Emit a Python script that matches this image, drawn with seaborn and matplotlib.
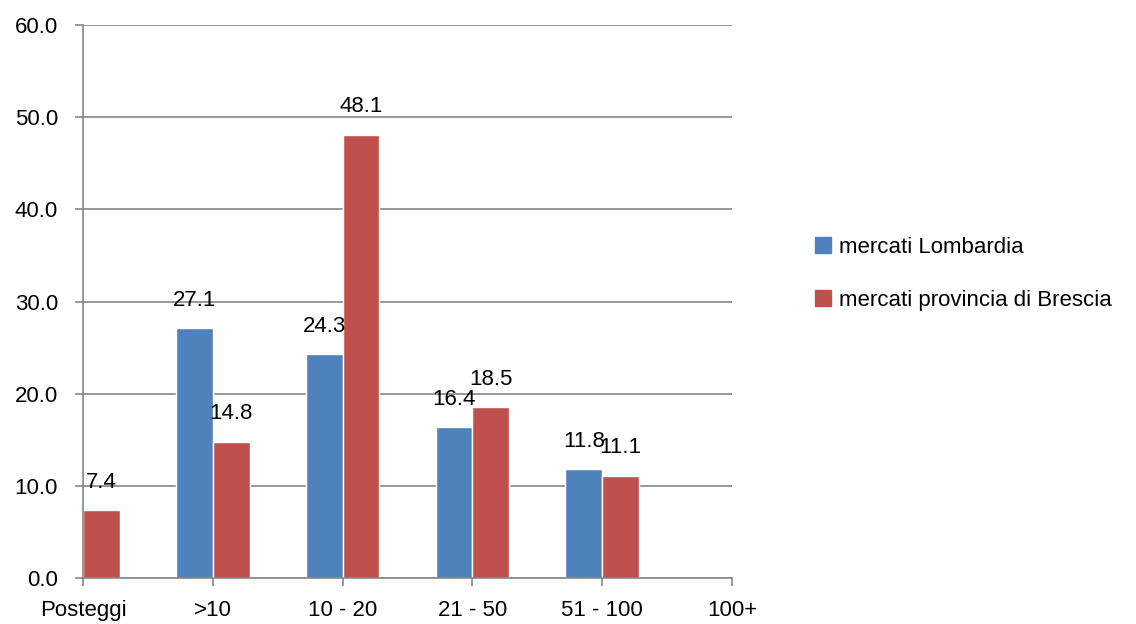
import matplotlib
matplotlib.use("Agg")
import matplotlib.pyplot as plt
import seaborn as sns
import numpy as np
import pandas as pd

categories = ["Posteggi", ">10", "10 - 20", "21 - 50", "51 - 100", "100+"]
lombardia = [np.nan, 27.1, 24.3, 16.4, 11.8, np.nan]
brescia = [7.4, 14.8, 48.1, 18.5, 11.1, np.nan]
series_names = ["mercati Lombardia", "mercati provincia di Brescia"]
colors = ["#4F81BD", "#C0504D"]

sns.set_theme(style="white")
plt.rcParams['font.family'] = ['Liberation Sans', 'DejaVu Sans']
plt.rcParams['text.color'] = 'black'
FS = 16

fig = plt.figure(figsize=(11.36, 6.24), dpi=100)
ax = fig.add_axes([83/1136, 1-578/624, (732-83)/1136, (578-25)/624])

x = np.arange(len(categories))
w = 0.283
for i, (vals, name, c) in enumerate(zip([lombardia, brescia], series_names, colors)):
    offs = (i - 0.5) * w
    df = pd.DataFrame({"x": x + offs, "y": vals})
    ax.bar(df["x"], df["y"], width=w, color=c, label=name, align="center", zorder=3)
    for xi, v in zip(df["x"], df["y"]):
        if not np.isnan(v) and 0 <= xi <= len(categories) - 1:
            ax.annotate(f"{v:.1f}", (xi, v), xytext=(0, 20), textcoords="offset points",
                        ha="center", va="center", fontsize=FS, color="black", zorder=4)

ax.set_xlim(0, len(categories) - 1)
ax.set_ylim(0, 60)
ax.set_yticks(np.arange(0, 61, 10))
ax.set_yticklabels([f"{v:.1f}" for v in np.arange(0, 61, 10)], fontsize=FS)
ax.set_xticks(x)
ax.set_xticklabels(categories, fontsize=FS)
ax.grid(axis="y", color="#868686", linewidth=1.2, zorder=0)
for s in ["top", "right"]:
    ax.spines[s].set_visible(False)
for s in ["left", "bottom"]:
    ax.spines[s].set_color("#868686")
    ax.spines[s].set_linewidth(1.2)
    ax.spines[s].set_zorder(5)
ax.tick_params(axis="both", which="both", direction="out", length=6, width=1.2, color="#868686",
               bottom=True, left=True, labelcolor="black")
ax.tick_params(axis="x", pad=10)
ax.tick_params(axis="y", pad=12)

handles = [plt.Rectangle((0, 0), 1, 1, color=c) for c in colors]
fig.legend(handles=handles, labels=series_names, loc="center left",
           bbox_to_anchor=(795/1136, 1-274/624), frameon=False, fontsize=FS,
           handlelength=0.73, handleheight=0.73, handletextpad=0.36, labelspacing=1.45,
           labelcolor="black")

fig.savefig("out.png", dpi=100)
